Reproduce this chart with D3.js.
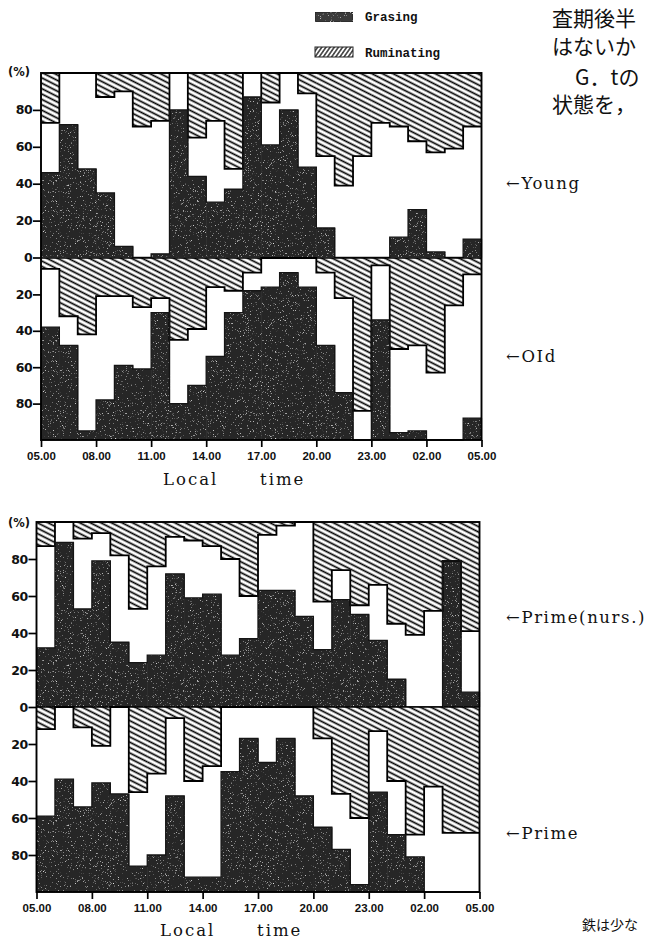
<!DOCTYPE html>
<html><head><meta charset="utf-8">
<script src="https://cdn.jsdelivr.net/npm/d3@7"></script>
<style>body{margin:0;background:#fff}</style>
</head><body>
<svg id="c" width="655" height="940" xmlns="http://www.w3.org/2000/svg"></svg>
<script>
// ---------- data ----------
const hours = ["05","06","07","08","09","10","11","12","13","14","15","16","17","18","19","20","21","22","23","00","01","02","03","04"];
const tickHours = [0,3,6,9,12,15,18,21,24];
const tickLabels = ["05.00","08.00","11.00","14.00","17.00","20.00","23.00","02.00","05.00"];
const yTicksUp = [0,20,40,60,80];
const yTicksDown = [20,40,60,80];

const youngGrazing    = [46,72,48,35,6,0,2,80,44,30,37,87,61,80,49,16,0,0,0,11,26,3,0,10];
const youngRuminating = [27,0,0,13,10,29,26,0,35,26,52,0,16,0,11,45,61,45,27,29,37,43,41,29];
const oldGrazing      = [62,52,5,22,41,39,70,20,30,46,70,82,84,92,84,52,26,0,66,4,5,0,0,12];
const oldRuminating   = [6,32,42,21,21,27,22,45,39,16,18,8,0,0,0,8,22,84,4,50,48,63,26,9];
const nursGrazing     = [32,89,53,79,35,24,28,72,59,61,28,37,63,63,49,31,58,50,36,15,0,0,79,8];
const nursRuminating  = [13,0,9,6,18,47,24,8,10,13,20,40,7,2,0,43,26,45,34,55,61,48,21,59];
const primeGrazing    = [41,61,46,59,53,14,20,52,8,8,65,83,70,83,52,35,23,4,54,31,19,0,0,0];
const primeRuminating = [12,0,11,21,0,46,36,6,40,32,0,0,0,0,0,17,47,60,13,40,69,43,68,68];

const legendLabels = ["Grasing","Ruminating"];
const groupLabels = ["←Young","←OId","←Prime(nurs.)","←Prime"];
const axisTitle = ["Local","time"];
const pageText = ["査期後半","はないか","G．tの","状態を，","鉄は少な"];

// ---------- setup ----------
const svg = d3.select("#c");
const defs = svg.append("defs");

const grain = defs.append("filter").attr("id","grain").attr("x",0).attr("y",0).attr("width","100%").attr("height","100%");
grain.append("feTurbulence").attr("type","fractalNoise").attr("baseFrequency",1.6).attr("numOctaves",2).attr("seed",7).attr("result","n");
grain.append("feColorMatrix").attr("in","n").attr("type","matrix")
  .attr("values","0 0 0 0 1  0 0 0 0 1  0 0 0 0 1  3.2 0 0 0 -2.08").attr("result","spk");
grain.append("feComposite").attr("in","spk").attr("in2","SourceGraphic").attr("operator","in").attr("result","spk2");
const fm = grain.append("feMerge");
fm.append("feMergeNode").attr("in","SourceGraphic");
fm.append("feMergeNode").attr("in","spk2");

function hatch(id, angle, gap, sw){
  const p = defs.append("pattern").attr("id",id).attr("patternUnits","userSpaceOnUse")
    .attr("width",10).attr("height",gap).attr("patternTransform",`rotate(${angle})`);
  p.append("rect").attr("width",10).attr("height",gap).attr("fill","#fff");
  p.append("line").attr("x1",0).attr("x2",10).attr("y1",gap/2).attr("y2",gap/2)
    .attr("stroke","#000").attr("stroke-width",sw);
}
hatch("hatch", 27, 4.8, 1.7);
hatch("hatchL", -55, 3.4, 1.2);

const DARK = "#262626";

function panel(x, y, graz, rum, upward){
  const g = svg.append("g");
  const bw = x.bandwidth();
  const gEnd = d => upward ? d : 100 - d;
  const rEnd = d => upward ? 100 - d : d;
  const gAnc = upward ? 0 : 100, rAnc = upward ? 100 : 0;
  const gg = g.append("g").attr("filter","url(#grain)");
  gg.selectAll("rect").data(graz).join("rect")
    .attr("x",(d,i)=>x(hours[i]))
    .attr("width",bw+0.6)
    .attr("y",d=>Math.min(y(gAnc),y(gEnd(d))))
    .attr("height",d=>Math.abs(y(gAnc)-y(gEnd(d))))
    .attr("fill",DARK);
  g.append("g").selectAll("rect").data(rum).join("rect")
    .attr("x",(d,i)=>x(hours[i]))
    .attr("width",bw+0.4)
    .attr("y",d=>Math.min(y(rAnc),y(rEnd(d))))
    .attr("height",d=>Math.abs(y(rAnc)-y(rEnd(d))))
    .attr("fill","url(#hatch)");
  const step = d3.line().curve(d3.curveStepAfter);
  const pts = (arr, f) => {
    const p = arr.map((d,i)=>[x(hours[i]), y(f(d))]);
    p.push([x(hours[hours.length-1])+bw, y(f(arr[arr.length-1]))]);
    return p;
  };
  g.append("path").attr("d",step(pts(rum,rEnd))).attr("fill","none").attr("stroke","#000").attr("stroke-width",1.8);
  g.append("path").attr("d",step(pts(graz,gEnd))).attr("fill","none").attr("stroke","#151515").attr("stroke-width",1.3);
}

function frame(x0,x1,yTop,yBot,yMid){
  svg.append("rect").attr("x",x0).attr("y",yTop).attr("width",x1-x0).attr("height",yBot-yTop)
    .attr("fill","none").attr("stroke","#000").attr("stroke-width",1.9);
  svg.append("line").attr("x1",x0).attr("x2",x1).attr("y1",yMid).attr("y2",yMid)
    .attr("stroke","#000").attr("stroke-width",1.5);
}

function yAxis(y, ticks, x0){
  const a = d3.axisLeft(y).tickValues(ticks).tickSize(8).tickSizeOuter(0).tickFormat(d3.format("d"));
  const g = svg.append("g").attr("transform",`translate(${x0},0)`).call(a);
  g.select(".domain").remove();
  g.selectAll(".tick line").attr("stroke","#000").attr("stroke-width",1.7);
  g.selectAll(".tick text").attr("x",-9).attr("fill","#111")
    .style("font-family","DejaVu Sans").style("font-weight","bold").style("font-size","12.5px").style("letter-spacing","-0.6px");
}

function xAxis(xl, yb){
  const a = d3.axisBottom(xl).tickValues(tickHours).tickSize(7).tickSizeOuter(0)
    .tickFormat((d,i)=>tickLabels[i]);
  const g = svg.append("g").attr("transform",`translate(0,${yb})`).call(a);
  g.select(".domain").remove();
  g.selectAll(".tick line").attr("stroke","#000").attr("stroke-width",1.7);
  g.selectAll(".tick text").attr("y",12).attr("fill","#111")
    .style("font-family","Liberation Sans").style("font-weight","bold").style("font-size","11.5px");
}

function title(x, yb){
  svg.append("text").attr("x",x).attr("y",yb).text(axisTitle[0])
    .style("font-family","DejaVu Serif").style("font-size","16.5px").style("letter-spacing","2px").attr("fill","#111");
  svg.append("text").attr("x",x+97).attr("y",yb).text(axisTitle[1])
    .style("font-family","DejaVu Serif").style("font-size","16.5px").style("letter-spacing","2px").attr("fill","#111");
}

// ---------- top chart ----------
const xT = d3.scaleBand().domain(hours).range([41,481.5]);
const xTl = d3.scaleLinear().domain([0,24]).range([41,481.5]);
const yYoung = d3.scaleLinear().domain([0,100]).range([257.5,73]);
const yOld = d3.scaleLinear().domain([0,100]).range([258,440]);
panel(xT, yYoung, youngGrazing, youngRuminating, true);
panel(xT, yOld, oldGrazing, oldRuminating, false);
frame(41,481.5,73,440,258);
yAxis(yYoung, yTicksUp, 41);
yAxis(yOld, yTicksDown, 41);
xAxis(xTl, 440);
title(163, 485);

// ---------- bottom chart ----------
const xB = d3.scaleBand().domain(hours).range([36.5,479.5]);
const xBl = d3.scaleLinear().domain([0,24]).range([36.5,479.5]);
const yNurs = d3.scaleLinear().domain([0,100]).range([707,522]);
const yPrime = d3.scaleLinear().domain([0,100]).range([707,892]);
panel(xB, yNurs, nursGrazing, nursRuminating, true);
panel(xB, yPrime, primeGrazing, primeRuminating, false);
frame(36.5,479.5,522,892,707);
yAxis(yNurs, yTicksUp, 36.5);
yAxis(yPrime, yTicksDown, 36.5);
xAxis(xBl, 892);
title(160, 936);

[[8,76],[8,527]].forEach(p=>{
  svg.append("text").attr("x",p[0]).attr("y",p[1]).text("(%)").attr("fill","#111")
    .style("font-family","DejaVu Sans").style("font-weight","bold").style("font-size","11.5px");
});

// ---------- legend ----------
svg.append("rect").attr("x",315).attr("y",12).attr("width",38).attr("height",10)
  .attr("fill","#3a3a3a").attr("stroke","#222").attr("filter","url(#grain)");
svg.append("rect").attr("x",315).attr("y",47).attr("width",38).attr("height",10)
  .attr("fill","url(#hatchL)").attr("stroke","#222").attr("stroke-width",1);
legendLabels.forEach((t,i)=>{
  svg.append("text").attr("x",365).attr("y",i?57:21).text(t).attr("fill","#111")
    .style("font-family","Liberation Mono").style("font-weight","bold").style("font-size","12.5px");
});

// ---------- group labels ----------
[[506,189],[506,362],[506,623],[506,839]].forEach((p,i)=>{
  svg.append("text").attr("x",p[0]).attr("y",p[1]).text(groupLabels[i]).attr("fill","#111")
    .style("font-family","DejaVu Serif").style("font-size","16.5px").style("letter-spacing","1.6px");
});

// ---------- surrounding page text ----------
[[552,26,21],[552,54,21],[575,85,21],[552,112,21],[582,930,14]].forEach((p,i)=>{
  svg.append("text").attr("x",p[0]).attr("y",p[1]).text(pageText[i]).attr("fill","#111")
    .style("font-family","Noto Sans CJK JP").style("font-size",p[2]+"px");
});
</script>
</body></html>
